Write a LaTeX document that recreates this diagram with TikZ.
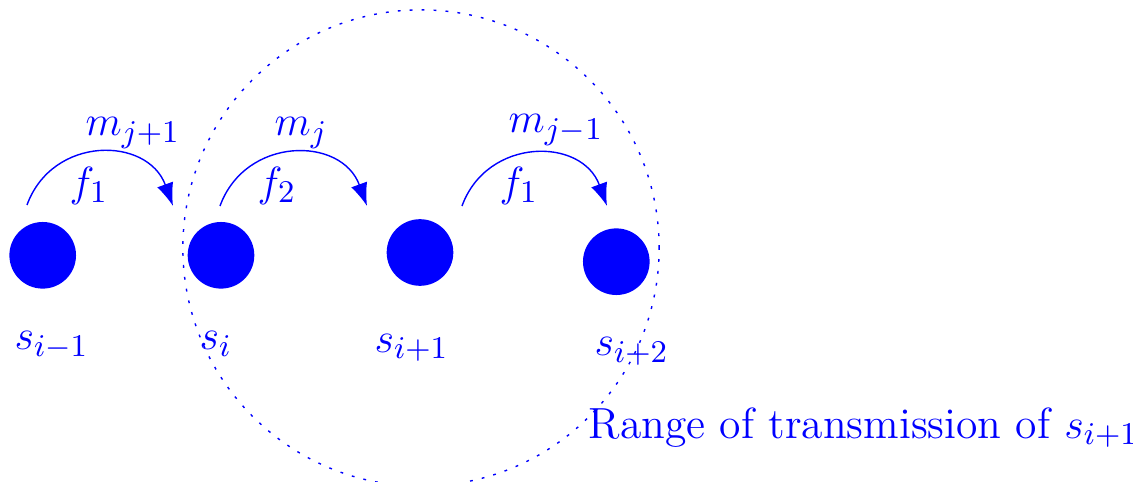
\documentclass[tikz,border=0pt]{standalone}
\usepackage{tikz}
\usetikzlibrary{arrows.meta}

\begin{document}
\begin{tikzpicture}[x=0.01cm, y=-0.01cm,
  every node/.style={font=\fontsize{12.4}{15}\selectfont, text=blue},
  sensor/.style={circle, fill=blue, inner sep=0pt, minimum size=0.666cm},
  tag/.style={anchor=base west, inner sep=0pt},
  hop/.style={-{Latex[length=6.5pt,width=4.8pt]}, blue, out=70, in=110, looseness=1.3}]
  \useasboundingbox (0,0) rectangle (1133,482);
  % sensors
  \node[sensor] (sprev) at (42.7,255.3) {};
  \node[sensor] (scur) at (221,255.3) {};
  \node[sensor] (snext) at (420,252.5) {};
  \node[sensor] (snn) at (616.3,261.7) {};
  \node[tag] (lprev) at (14,350) {$s_{i-1}$};
  \node[tag] (lcur) at (199,350) {$s_i$};
  \node[tag] (lnext) at (374,352) {$s_{i+1}$};
  \node[tag] (lnn) at (594,356) {$s_{i+2}$};
  % range of s_{i+1}
  \draw[blue, dash pattern=on 0.8pt off 2.6pt] (snext) ++(1,-4.5) circle[radius=2.38cm];
  \node[tag] (range) at (588,438) {Range of transmission of $s_{i+1}$};
  % messages
  \coordinate (hopAfrom) at (27,205);
  \coordinate (hopAto) at (173,206);
  \coordinate (hopBfrom) at (220,206);
  \coordinate (hopBto) at (367,206);
  \coordinate (hopCfrom) at (462,206);
  \coordinate (hopCto) at (607,206);
  \draw[hop] (hopAfrom) to (hopAto);
  \draw[hop] (hopBfrom) to (hopBto);
  \draw[hop] (hopCfrom) to (hopCto);
  \node[tag] (mA) at (85,136) {$m_{j+1}$};
  \node[tag] (fA) at (69,196) {$f_1$};
  \node[tag] (mB) at (274,136) {$m_j$};
  \node[tag] (fB) at (257,196) {$f_2$};
  \node[tag] (mC) at (508,133) {$m_{j-1}$};
  \node[tag] (fC) at (499,196) {$f_1$};
\end{tikzpicture}
\end{document}
